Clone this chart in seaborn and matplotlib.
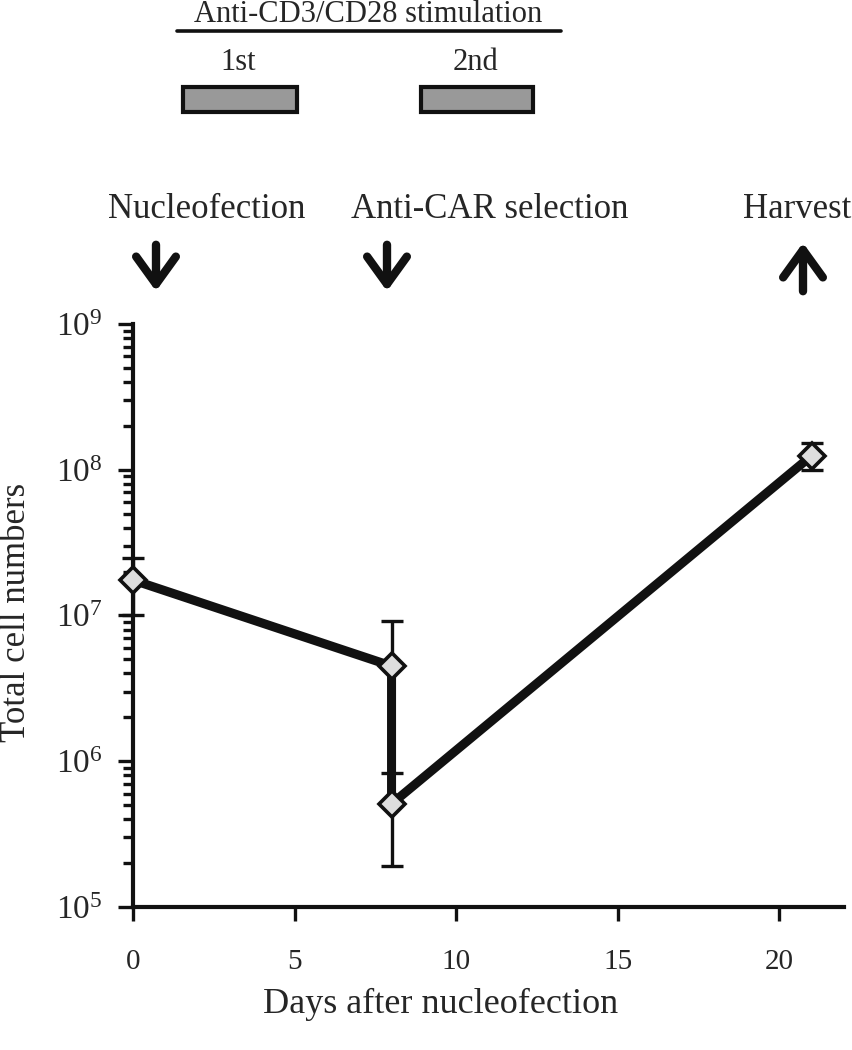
import numpy as np
import matplotlib
matplotlib.use("Agg")
import matplotlib.pyplot as plt
import matplotlib.ticker as mticker
from matplotlib.patches import Rectangle, FancyArrowPatch
from matplotlib.lines import Line2D
import seaborn as sns

# -----------------------------
# Data
# -----------------------------
days = [0, 8, 8, 21]
cells = [1.75e7, 4.5e6, 5.1e5, 1.25e8]
err_low = [0.75e7, 0.0, 3.2e5, 0.25e8]
err_high = [0.74e7, 4.7e6, 3.2e5, 0.27e8]

x_ticks = [0, 5, 10, 15, 20]
y_decades = [1e5, 1e6, 1e7, 1e8, 1e9]

events = ["Nucleofection", "Anti-CAR selection", "Harvest"]
stim_labels = ["1st", "2nd"]

# -----------------------------
# Style
# -----------------------------
sns.set_style("ticks")
plt.rcParams["font.family"] = ["Liberation Serif", "DejaVu Serif"]
plt.rcParams["mathtext.fontset"] = "custom"
plt.rcParams["mathtext.rm"] = "Liberation Serif"
plt.rcParams["mathtext.it"] = "Liberation Serif:italic"

W, H = 853, 1050
fig = plt.figure(figsize=(W / 100, H / 100), dpi=100)


def fx(px):
    return px / W


def fy(py):
    return 1 - py / H


ax = fig.add_axes([fx(133), fy(907), fx(844) - fx(133), fy(324) - fy(907)])

df_x = np.array(days)
df_y = np.array(cells)

# error bars (thin) drawn first
eb = ax.errorbar(df_x, df_y, yerr=[err_low, err_high], fmt="none", ecolor="#111111",
                 elinewidth=2.4, capsize=8, capthick=2.4, zorder=2)
for art in eb.lines[1] + eb.lines[2]:
    art.set_clip_on(False)

# thick connecting line + diamond markers
sns.lineplot(x=df_x, y=df_y, sort=False, estimator=None, ax=ax, color="#111111",
             linewidth=6.5, zorder=3)
ax.plot(df_x, df_y, linestyle="none", marker="D", markersize=13,
        markerfacecolor="#dedede", markeredgecolor="#111111", markeredgewidth=2.6,
        zorder=4, clip_on=False)

ax.set_yscale("log")
ax.set_ylim(1e5, 1e9)
ax.set_xlim(0, 22)
ax.set_yticks(y_decades)
ax.yaxis.set_major_formatter(mticker.FuncFormatter(
    lambda v, p: r"$10^{%d}$" % int(round(np.log10(v)))))
ax.yaxis.set_minor_locator(mticker.LogLocator(base=10, subs=np.arange(2, 10)))
ax.yaxis.set_minor_formatter(mticker.NullFormatter())
ax.set_xticks(x_ticks)

for side in ["top", "right"]:
    ax.spines[side].set_visible(False)
for side in ["left", "bottom"]:
    ax.spines[side].set_linewidth(3.0)
    ax.spines[side].set_color("#111111")

ax.tick_params(axis="y", which="major", direction="out", length=11, width=2.4,
               color="#111111", labelsize=24, pad=11)
ax.tick_params(axis="y", which="minor", direction="out", length=7, width=2.4,
               color="#111111")
ax.tick_params(axis="x", which="major", direction="out", length=10, width=2.4,
               color="#111111", labelsize=21, pad=20)

ax.set_xlabel("Days after nucleofection", fontsize=26)
ax.set_ylabel("Total cell numbers", fontsize=25)
ax.xaxis.set_label_coords((441 - 133) / (844 - 133), -(988 - 907) / (907 - 324))
ax.yaxis.set_label_coords(-(133 - 33) / (844 - 133), (907 - 612) / (907 - 324))

# -----------------------------
# Annotations above the plot
# -----------------------------
event_x = [207, 490, 797]
arrow_x = [156, 387, 803]
for label, tx in zip(events, event_x):
    fig.text(fx(tx), fy(210), label, ha="center", va="center", fontsize=25)
for i, axp in enumerate(arrow_x):
    if i < 2:
        start, end = fy(242), fy(294)
    else:
        start, end = fy(294), fy(240)
    fig.add_artist(FancyArrowPatch(
        (fx(axp), start), (fx(axp), end), transform=fig.transFigure,
        arrowstyle="->,head_length=0.9,head_width=0.65", mutation_scale=22,
        linewidth=6, color="#111111"))

fig.text(fx(368), fy(15), "Anti-CD3/CD28 stimulation", ha="center", va="center",
         fontsize=22)
fig.add_artist(Line2D([fx(177), fx(561)], [fy(31), fy(31)], transform=fig.transFigure,
                      color="#111111", linewidth=2.6))
stim_boxes = [(183, 297), (421, 533)]
for label, (x0, x1) in zip(stim_labels, stim_boxes):
    fig.text(fx((x0 + x1) / 2 - 2), fy(62), label, ha="center", va="center", fontsize=22)
    fig.add_artist(Rectangle((fx(x0), fy(112)), fx(x1) - fx(x0), fy(87) - fy(112),
                             transform=fig.transFigure, facecolor="#999999",
                             edgecolor="#111111", linewidth=3.0))

fig.savefig("out.png", dpi=100)
